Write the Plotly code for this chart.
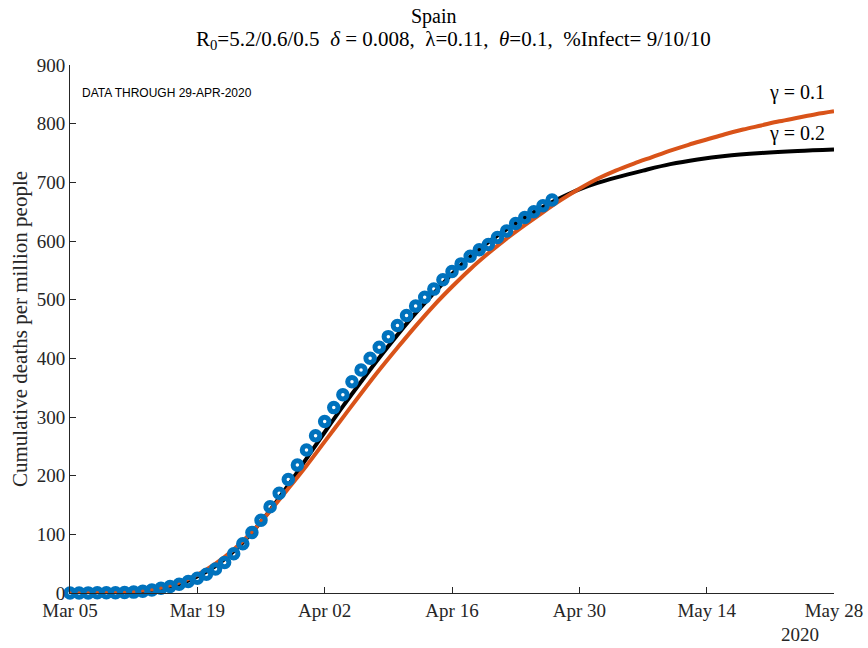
import pandas as pd
import plotly.graph_objects as go

# Observed cumulative deaths per million, one value per day from 5 March 2020
start_date = "2020-03-05"
observed = [0.1, 0.1, 0.2, 0.3, 0.4, 0.6, 0.9, 1.5, 3, 5,
            8, 11, 15, 19.5, 25, 32, 41, 52, 67, 84,
            103, 124, 147, 170, 193.5, 218, 243.7, 268, 292.5, 316,
            338, 360, 380, 400, 419, 437, 456, 473, 489, 504,
            518, 534, 548, 561, 574, 585, 594, 606, 617, 630,
            640, 650, 660, 670]

# Model curves: day offset from start_date and projected deaths per million
model_days_g02 = [0, 2, 4, 6, 8, 10, 12, 14, 16, 18, 20, 22, 24, 26, 28, 30,
                  32, 34, 36, 38, 40, 42, 44, 46, 48, 50, 52, 54, 56, 58, 60,
                  63, 66, 69, 72, 76, 80, 84]
model_g02 = [0.1, 0.2, 0.6, 1.5, 3.5, 7.5, 15, 28, 46, 71, 103, 141, 184, 229,
             274, 318, 360, 401, 440, 477, 511, 544, 573, 598, 620, 640, 658,
             674, 688, 699, 708, 720, 731, 739, 745, 750, 753.5, 756]

model_days_g01 = [0, 2, 4, 6, 8, 10, 12, 14, 16, 18, 20, 22, 24, 26, 28, 30,
                  32, 34, 36, 38, 40, 42, 44, 46, 48, 50, 52, 54, 56, 58, 60,
                  62, 64, 66, 68, 70, 72, 74, 76, 78, 80, 82, 84]
model_g01 = [0.05, 0.2, 0.7, 1.8, 4.2, 9, 17.5, 31, 50, 74, 104, 140, 178, 217,
             258, 299, 340, 380, 418, 455, 490, 522, 552, 579, 604, 627, 649,
             670, 689, 706, 720, 732, 743, 754, 764, 773, 782, 790, 797, 804,
             810, 816, 821]

tick_dates = ["2020-03-05", "2020-03-19", "2020-04-02", "2020-04-16",
              "2020-04-30", "2020-05-14", "2020-05-28"]
tick_labels = ["Mar 05", "Mar 19", "Apr 02", "Apr 16", "Apr 30", "May 14", "May 28"]
y_ticks = [0, 100, 200, 300, 400, 500, 600, 700, 800, 900]

t0 = pd.Timestamp(start_date)
obs_dates = pd.date_range(t0, periods=len(observed), freq="D")
g02_dates = [t0 + pd.Timedelta(days=d) for d in model_days_g02]
g01_dates = [t0 + pd.Timedelta(days=d) for d in model_days_g01]

AX = "#262626"
SERIF = "Liberation Serif, Times New Roman, serif"

fig = go.Figure()
fig.add_trace(go.Scatter(x=g02_dates, y=model_g02, mode="lines",
                         line=dict(color="#000000", width=4, shape="spline"),
                         showlegend=False, cliponaxis=False))
fig.add_trace(go.Scatter(x=g01_dates, y=model_g01, mode="lines",
                         line=dict(color="#D95319", width=4, shape="spline"),
                         showlegend=False, cliponaxis=False))
fig.add_trace(go.Scatter(x=obs_dates, y=observed, mode="markers",
                         marker=dict(symbol="circle-open", size=8.5,
                                     color="#0072BD",
                                     line=dict(width=5, color="#0072BD")),
                         showlegend=False, cliponaxis=False))

L, R, T, B = 70, 34, 65, 55
W, H = 868, 648
pw, ph = W - L - R, H - T - B


def px_x(x):
    return (x - L) / pw


def px_y(y):
    return (H - B - y) / ph


annotations = [
    dict(text="Spain", x=px_x(434), y=px_y(16), xref="paper", yref="paper",
         showarrow=False, font=dict(family=SERIF, size=20, color="#000000"),
         xanchor="center", yanchor="middle"),
    dict(text="R<sub>0</sub>=5.2/0.6/0.5  <i>δ</i> = 0.008,  λ=0.11,  <i>θ</i>=0.1,  %Infect= 9/10/10",
         x=px_x(453), y=px_y(40), xref="paper", yref="paper",
         showarrow=False, font=dict(family=SERIF, size=21, color="#000000"),
         xanchor="center", yanchor="middle"),
    dict(text="DATA THROUGH 29-APR-2020", x=px_x(80), y=px_y(93),
         xref="paper", yref="paper", showarrow=False,
         font=dict(family="Liberation Sans, Arial, sans-serif", size=12, color="#000000"),
         xanchor="left", yanchor="middle"),
    dict(text="γ = 0.1", x=px_x(827), y=px_y(93), xref="paper", yref="paper",
         showarrow=False, font=dict(family=SERIF, size=20, color="#000000"),
         xanchor="right", yanchor="middle"),
    dict(text="γ = 0.2", x=px_x(827), y=px_y(133), xref="paper", yref="paper",
         showarrow=False, font=dict(family=SERIF, size=20, color="#000000"),
         xanchor="right", yanchor="middle"),
    dict(text="2020", x=px_x(800), y=px_y(634), xref="paper", yref="paper",
         showarrow=False, font=dict(family=SERIF, size=19, color=AX),
         xanchor="center", yanchor="middle"),
    dict(text="Cumulative deaths per million people", x=px_x(20), y=0.5,
         xref="paper", yref="paper", textangle=-90, showarrow=False,
         font=dict(family=SERIF, size=21, color=AX),
         xanchor="center", yanchor="middle"),
]

fig.update_layout(
    width=W, height=H, autosize=False,
    margin=dict(l=L, r=R, t=T, b=B, pad=0, autoexpand=False),
    paper_bgcolor="#ffffff", plot_bgcolor="#ffffff",
    annotations=annotations,
    xaxis=dict(type="date", range=["2020-03-05", "2020-05-28"],
               tickvals=tick_dates, ticktext=tick_labels, automargin=False,
               ticks="inside", ticklen=6, tickcolor=AX, tickwidth=1,
               showline=True, linecolor=AX, linewidth=1, mirror=False,
               showgrid=False, zeroline=False,
               tickfont=dict(family=SERIF, size=19, color=AX)),
    yaxis=dict(range=[0, 900], tickvals=y_ticks, automargin=False,
               ticks="inside", ticklen=6, tickcolor=AX, tickwidth=1,
               showline=True, linecolor=AX, linewidth=1, mirror=False,
               showgrid=False, zeroline=False,
               tickfont=dict(family=SERIF, size=19, color=AX)),
)

fig.write_html("out.html")
